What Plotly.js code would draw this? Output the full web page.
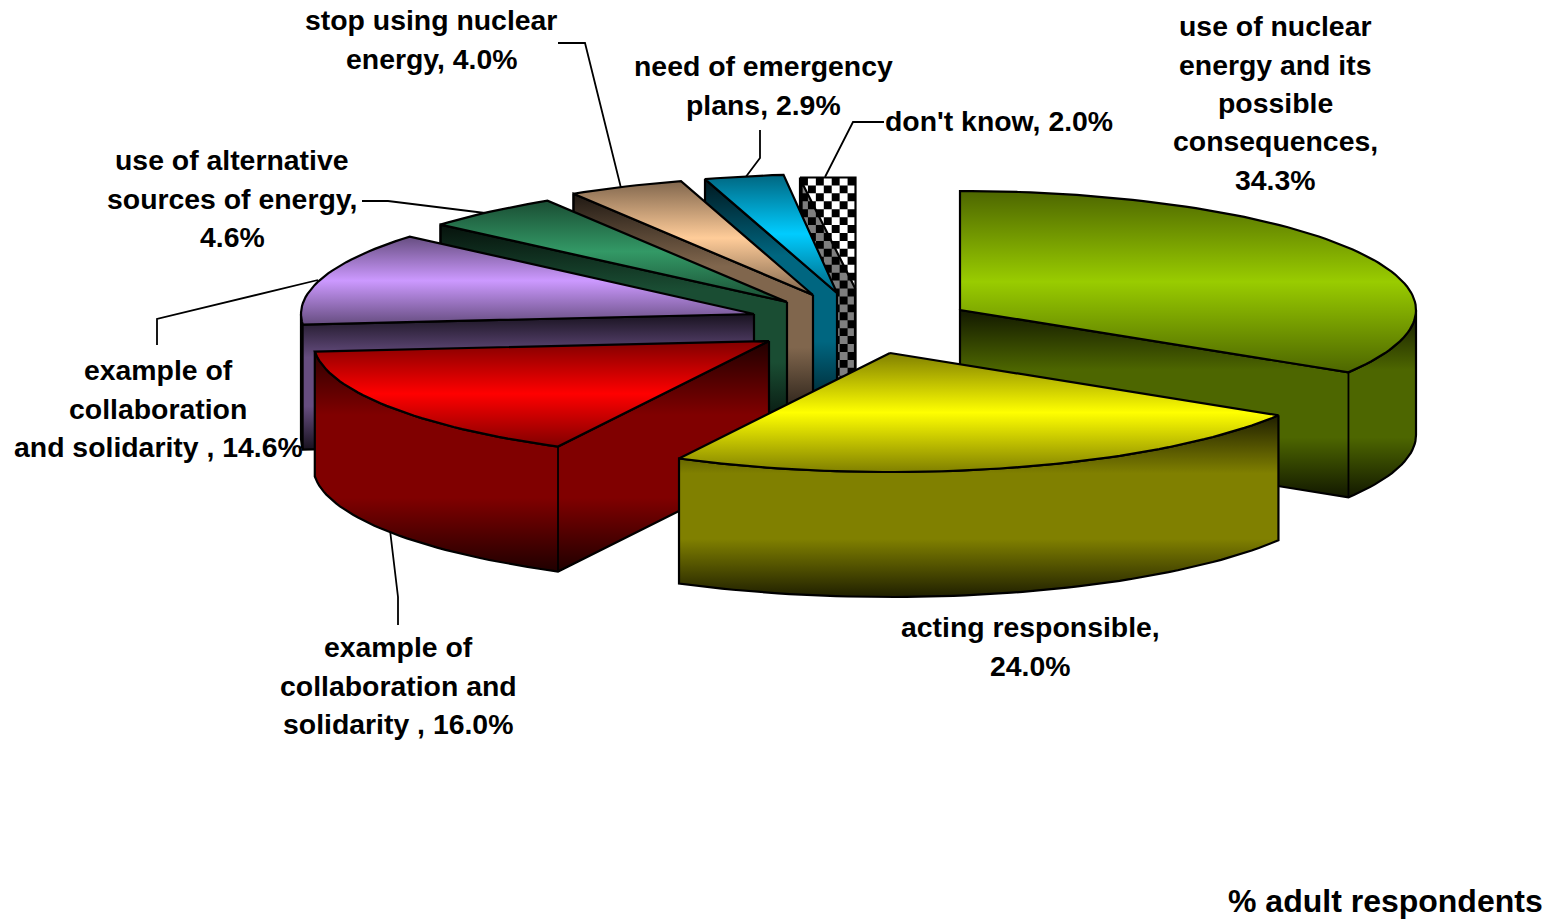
<!DOCTYPE html>
<html>
<head>
<meta charset="utf-8">
<script src="https://cdn.plot.ly/plotly-3.0.1.min.js"></script>
<style>html,body{margin:0;padding:0;background:#fff;overflow:hidden}</style>
</head>
<body>
<div id="chart" style="width:1550px;height:922px"></div>
<script>
// ---- data ----
const categories = [
  "use of nuclear energy and its possible consequences",
  "acting responsible",
  "example of collaboration and solidarity",
  "example of collaboration and solidarity",
  "use of alternative sources of energy",
  "stop using nuclear energy",
  "need of emergency plans",
  "don't know"
];
const values = [34.3, 24.0, 16.0, 14.6, 4.6, 4.0, 2.9, 2.0];
const labelLines = [
  ["use of nuclear", "energy and its", "possible", "consequences,", "34.3%"],
  ["acting responsible,", "24.0%"],
  ["example of", "collaboration and", "solidarity , 16.0%"],
  ["example of", "collaboration", "and solidarity , 14.6%"],
  ["use of alternative", "sources of energy,", "4.6%"],
  ["stop using nuclear", "energy, 4.0%"],
  ["need of emergency", "plans, 2.9%"],
  ["don't know, 2.0%"]
];
const footnote = "% adult respondents";

// ---- styles ----
const colors = ["#99CC00", "#FFFF00", "#FF0000", "#CC99FF", "#339966", "#FFCC99", "#00CCFF", "#FFFFFF"];
const FONT = "Liberation Sans, Arial, sans-serif";

// ---- layout of the exploded 3-D pie (pixel-like axes) ----
const DEPTH = 125;
const radiiX = [456, 456, 456, 453, 456, 456, 456, 456];
const radiiY = [119, 119, 119, 119, 119, 119, 119, 107];
const centresX = [960, 890, 769, 754, 787, 813, 837, 855];
const centresY = [310, 353, 341, 314, 302, 295, 293, 288];
// perspective correction of each slice boundary, in degrees
const edgeWarp = [0, 1.0, 2.6, 3.7, -2.0, -0.4, 0.4, 0.3, 0];
const labelX = [1275, 1030, 398, 158, 232, 431, 763, 998.5];
const labelY = [26.2, 627.2, 647.2, 370.2, 160.2, 20.2, 66.2, 121.2];
const LINE_H = 38.4;
const leaders = [
  null, null,
  {x: [390, 398, 398], y: [530, 597, 625]},
  {x: [157, 157, 318], y: [345, 319, 280]},
  {x: [362, 388, 485], y: [201, 201, 213]},
  {x: [558, 585, 622], y: [43, 43, 192]},
  {x: [760, 760, 745], y: [130, 158, 178]},
  {x: [884, 853, 825], y: [122, 122, 177]}
];

// ---- helpers ----
const rad = d => d * Math.PI / 180;
function shade(hex, k) {
  const n = parseInt(hex.slice(1), 16);
  return `rgb(${Math.round((n >> 16 & 255) * k)},${Math.round((n >> 8 & 255) * k)},${Math.round((n & 255) * k)})`;
}
function rim(i, a) { return [centresX[i] + radiiX[i] * Math.sin(rad(a)), centresY[i] - radiiY[i] * Math.cos(rad(a))]; }
function arc(i, a0, a1) {
  const n = Math.max(2, Math.ceil(Math.abs(a1 - a0) / 1.5)), out = [];
  for (let k = 0; k <= n; k++) out.push(rim(i, a0 + (a1 - a0) * k / n));
  return out;
}
function range(ys) { return [Math.min(...ys), Math.max(...ys)]; }
function gradTrace(pts, base, stops, name) {
  const xs = pts.map(p => p[0]).concat(pts[0][0]);
  const ys = pts.map(p => p[1]).concat(pts[0][1]);
  const [lo, hi] = range(ys);
  return {
    type: "scatter", mode: "lines", x: xs, y: ys, fill: "toself", name: name,
    line: {color: "#000", width: 2.2}, hoverinfo: "name", showlegend: false,
    fillgradient: {type: "vertical", start: lo, stop: hi,
      colorscale: stops.map(s => [s[0], shade(base, s[1])])}
  };
}
const topStops  = [[0, .5], [.5, 1], [1, .5]];
const wallStops = [[0, .12], [.32, .5], [.68, .5], [1, .12]];

// slice boundaries from the values
const total = values.reduce((a, b) => a + b, 0);
const edges = [0];
values.forEach(v => edges.push(edges[edges.length - 1] + v / total * 360));
const bounds = edges.map((e, i) => e + edgeWarp[i]);

function wallPath(i) {
  const a0 = bounds[i], a1 = bounds[i + 1];
  const apex = [centresX[i], centresY[i]];
  const aFrom = Math.max(a0, 90), aTo = Math.min(a1, 270);
  const curve = aFrom < aTo ? arc(i, aFrom, aTo) : [];
  let path = curve.slice(), corner = null;
  if (Math.sin(rad(a1)) > 0.01) {            // closing face is visible
    if (!curve.length) path = [rim(i, a1)];
    corner = path[path.length - 1];
    path.push(apex);
  }
  if (Math.sin(rad(a0)) < -0.01) {           // opening face is visible
    if (!curve.length) path = [rim(i, a0)];
    corner = path[0];
    path.unshift(apex);
  }
  return {path, corner};
}

const traces = [];

// leader lines go behind the pie
leaders.forEach(l => {
  if (l) traces.push({type: "scatter", mode: "lines", x: l.x, y: l.y,
    line: {color: "#000", width: 1.8}, hoverinfo: "skip", showlegend: false});
});

function pushSlice(i) {
  const name = categories[i] + ", " + values[i].toFixed(1) + "%";
  const {path, corner} = wallPath(i);
  const wall = path.concat(path.slice().reverse().map(p => [p[0], p[1] + DEPTH]));
  const top = [[centresX[i], centresY[i]]].concat(arc(i, bounds[i], bounds[i + 1]));
  if (i === 7) {
    pushChecker(i, wall, top, name);
    return;
  }
  traces.push(gradTrace(wall, colors[i], wallStops, name));
  if (corner) traces.push({type: "scatter", mode: "lines",
    x: [corner[0], corner[0]], y: [corner[1], corner[1] + DEPTH],
    line: {color: "#000", width: 1.8}, hoverinfo: "skip", showlegend: false});
  traces.push(gradTrace(top, colors[i], topStops, name));
}

function pushChecker(i, wall, top, name) {
  const pts = wall.concat(top);
  const ys = pts.map(p => p[1]);
  const xL = 800, xR = 855.5, yT = 177.5, yB = Math.max(...ys), cell = 7.93;
  // white backing of the whole patterned block
  traces.push({type: "scatter", mode: "lines", x: [xL, xR, xR, xL, xL], y: [yT, yT, yB, yB, yT],
    fill: "toself", fillcolor: "#fff", line: {color: "#000", width: 2.2}, hoverinfo: "skip", showlegend: false});
  // black checks
  const cx = [], cy = [];
  for (let r = 0; yT + r * cell < yB; r++) for (let c = 0; xL + c * cell < xR - 1; c++) {
    if ((r + c) % 2) continue;
    const x0 = xL + c * cell, x1 = Math.min(x0 + cell, xR);
    const y0 = yT + r * cell, y1 = Math.min(y0 + cell, yB);
    cx.push(x0, x1, x1, x0, x0, null); cy.push(y0, y0, y1, y1, y0, null);
  }
  traces.push({type: "scatter", mode: "lines", x: cx, y: cy, fill: "toself", fillcolor: "#000",
    line: {color: "#000", width: 0}, hoverinfo: "skip", showlegend: false});
  // the side wall dims the white checks to grey
  const w = wall.concat([wall[0]]);
  traces.push({type: "scatter", mode: "lines", x: w.map(p => Math.max(p[0], xL)), y: w.map(p => p[1]),
    fill: "toself", fillcolor: "rgba(0,0,0,0.5)", name: name,
    line: {color: "#000", width: 2.2}, hoverinfo: "name", showlegend: false});
}

// painter's order: back slices first, front slices last
[7, 6, 5, 4, 3, 0, 2, 1].forEach(pushSlice);

// real-text labels, one annotation per line
const annotations = [];
labelLines.forEach((lines, i) => lines.forEach((t, j) => annotations.push({
  x: labelX[i], y: labelY[i] + j * LINE_H, xref: "x", yref: "y", text: t, showarrow: false,
  xanchor: "center", yanchor: "middle", font: {family: FONT, size: 28.4, color: "#000", weight: 700}
})));
annotations.push({x: 1544.5, y: 901, xref: "x", yref: "y", text: footnote, showarrow: false,
  xanchor: "right", yanchor: "middle", font: {family: FONT, size: 32, color: "#000", weight: 700}});

Plotly.newPlot("chart", traces, {
  width: 1550, height: 922, margin: {l: 0, r: 0, t: 0, b: 0},
  paper_bgcolor: "#fff", plot_bgcolor: "#fff", showlegend: false,
  xaxis: {range: [0, 1550], visible: false, fixedrange: true},
  yaxis: {range: [922, 0], visible: false, fixedrange: true},
  annotations: annotations
}, {displayModeBar: false, staticPlot: true});
</script>
</body>
</html>
